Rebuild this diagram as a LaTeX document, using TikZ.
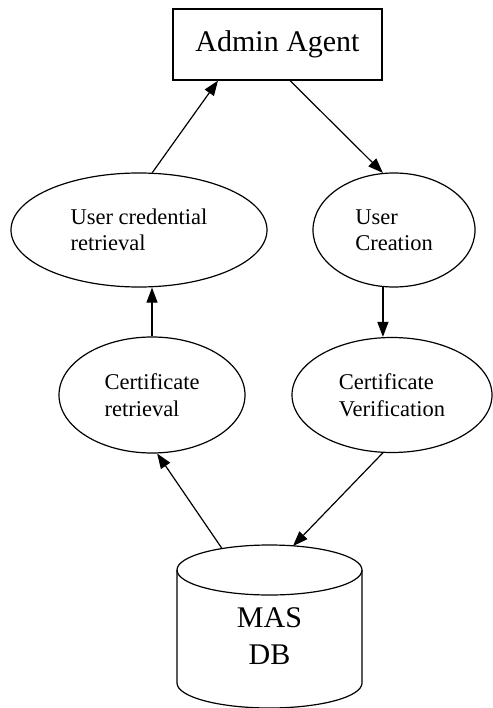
\documentclass[tikz,border=0pt]{standalone}
\usepackage{fontspec}
\setmainfont{Liberation Serif}
\usetikzlibrary{shapes.geometric,arrows.meta}
\begin{document}
\begin{tikzpicture}[x=1pt,y=-1pt,
  conn/.style={line width=1.2pt,-{Triangle[length=15pt,width=11pt]}},
  proc/.style={ellipse,draw,line width=1.2pt,inner sep=0pt,align=left,
    font=\fontsize{22.5}{26.5}\selectfont},
  agent/.style={rectangle,draw,line width=1.2pt,minimum width=209pt,
    minimum height=71pt,font=\fontsize{30}{36}\selectfont},
  dbtext/.style={align=center,font=\fontsize{30}{37}\selectfont}]
\useasboundingbox (0,0) rectangle (492,708);

% agent and processes
\node[agent] (admin) at (277.5,44.5) {Admin Agent};
\node[proc,minimum width=256pt,minimum height=114pt] (cred) at (139,230) {User credential\\retrieval};
\node[proc,minimum width=162pt,minimum height=114pt] (create) at (394,230) {User\\Creation};
\node[proc,minimum width=186pt,minimum height=116pt] (certr) at (152,395) {Certificate\\retrieval};
\node[proc,minimum width=200pt,minimum height=115pt] (certv) at (392,395) {Certificate\\Verification};

% database cylinder
\draw[line width=1.2pt] (177,570) -- (177,683)
  arc[start angle=180,end angle=360,x radius=92.5pt,y radius=25pt] -- (362,570);
\draw[line width=1.2pt] (269.5,570) ellipse [x radius=92.5pt,y radius=25pt];
\node[dbtext] (db) at (269.5,636) {MAS\\DB};
\coordinate (dbL) at (222,548.5);
\coordinate (dbR) at (293,546);

% flows
\draw[conn] (cred.77) -- ([xshift=-59.5pt]admin.south);
\draw[conn] ([xshift=12.5pt]admin.south) -- (create.101);
\draw[conn] (certr.north) -- (certr.north |- cred.south);
\draw[conn] (create.-101) -- (create.-101 |- certv.north);
\draw[conn] (dbL) -- (certr.-85);
\draw[conn] (certv.-99) -- (dbR);
\end{tikzpicture}
\end{document}
